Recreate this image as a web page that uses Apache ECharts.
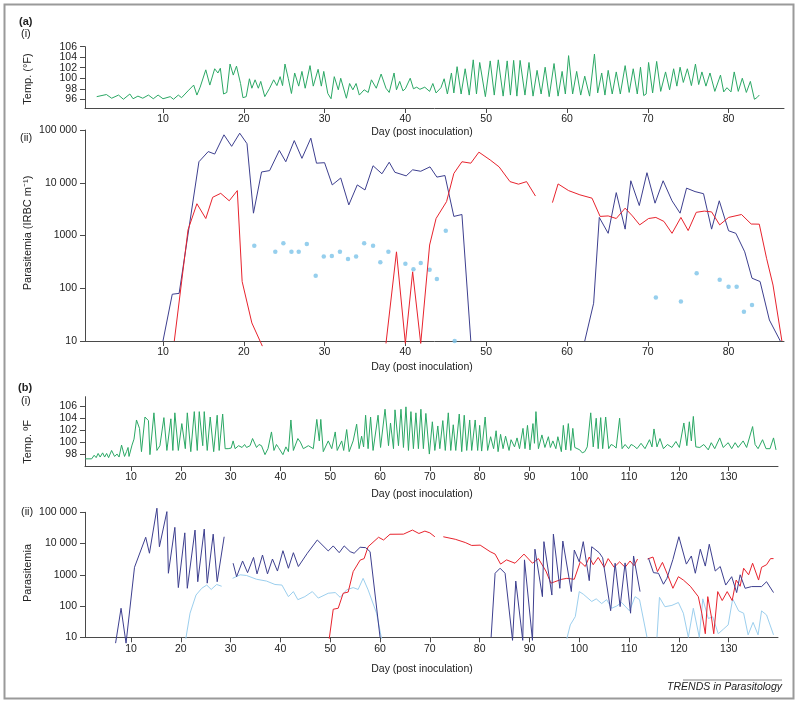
<!DOCTYPE html>
<html>
<head>
<meta charset="utf-8">
<script src="https://cdn.jsdelivr.net/npm/echarts@6/dist/echarts.min.js"></script>
<style>
html,body{margin:0;padding:0;background:#fff;}
#chart{width:800px;height:707px;}
</style>
</head>
<body>
<div id="chart"></div>
<script>
// ---------- DATA ----------
// Panel (a)(i) temperature [day, °F]
const aTemp = [[1.8,96.5],[3.0,96.9],[3.65,96.2],[4.5,96.8],[5.1,96.0],[5.9,97.0],[6.3,96.1],[6.9,96.6],[7.5,96.2],[8.2,96.8],[8.8,96.1],[9.4,96.8],[10.0,96.1],[10.9,96.5],[11.3,96.0],[11.9,96.8],[12.3,96.3],[13.1,97.6],[13.8,98.7],[14.2,96.8],[14.6,98.3],[15.3,101.6],[15.8,98.7],[16.4,101.8],[16.8,101.0],[17.1,101.9],[17.5,97.0],[17.9,97.3],[18.3,102.7],[18.7,100.6],[19.1,102.3],[19.6,99.0],[19.9,96.3],[20.3,96.5],[20.7,99.9],[21.0,98.1],[21.4,99.7],[21.8,98.1],[22.1,99.4],[22.6,96.5],[23.2,98.1],[23.7,99.7],[24.1,98.6],[24.5,100.3],[24.8,98.6],[25.1,102.7],[25.5,100.0],[25.9,97.1],[26.3,101.0],[26.8,98.5],[27.2,101.3],[27.6,98.1],[28.2,102.4],[28.6,98.5],[29.2,101.7],[29.6,98.5],[29.9,101.3],[30.4,97.1],[30.8,96.1],[31.2,100.3],[31.7,97.8],[32.0,100.0],[32.7,96.2],[33.1,99.0],[33.5,97.8],[33.9,99.0],[34.3,96.8],[34.9,97.8],[35.4,97.3],[35.8,99.7],[36.4,98.1],[37.0,100.8],[37.6,98.1],[38.0,97.3],[38.6,101.0],[38.9,97.8],[39.3,99.4],[39.7,97.6],[40.0,98.0],[40.6,100.0],[41.0,98.0],[41.4,98.3],[41.8,97.9],[42.4,98.3],[43.0,97.5],[43.4,99.0],[43.8,97.2],[44.4,98.2],[44.8,99.9],[45.2,97.0],[45.7,101.0],[46.0,97.2],[46.4,102.2],[46.9,97.0],[47.4,101.8],[47.9,96.8],[48.4,103.5],[48.8,97.0],[49.2,103.0],[49.9,96.5],[50.5,103.3],[51.0,96.8],[51.5,103.5],[52.1,96.6],[52.6,103.3],[53.0,96.8],[53.4,103.4],[53.8,96.6],[54.2,103.4],[54.8,96.8],[55.3,103.0],[55.8,96.6],[56.3,101.5],[56.8,97.0],[57.3,102.1],[57.8,96.5],[58.4,102.8],[58.9,96.6],[59.4,101.3],[59.8,97.0],[60.2,104.3],[60.7,97.0],[61.2,101.3],[61.7,96.8],[62.2,100.4],[62.8,96.6],[63.4,104.6],[63.8,97.2],[64.3,101.0],[64.7,96.8],[65.1,101.5],[65.6,97.0],[66.1,101.2],[66.6,97.0],[67.2,102.4],[67.7,97.3],[68.2,101.8],[68.7,97.0],[69.1,102.1],[69.5,96.7],[69.8,97.0],[70.1,103.0],[70.6,97.2],[71.1,103.2],[71.6,97.5],[72.2,101.2],[72.7,97.8],[73.2,101.8],[73.6,98.5],[74.0,102.1],[74.4,99.2],[74.9,101.8],[75.4,98.6],[75.9,102.7],[76.3,98.8],[76.7,101.2],[77.2,98.5],[77.7,101.0],[78.3,97.5],[79.0,100.6],[79.4,97.4],[79.8,98.2],[80.3,97.4],[80.7,101.2],[81.2,97.5],[81.7,100.0],[82.2,97.3],[82.7,99.4],[83.2,96.0],[83.5,96.3],[83.8,96.8]];

// Panel (a)(ii) parasitemia [day, IRBC]
const aBlue1 = [[10.0,10],[11.15,77],[12.0,80],[14.45,25000],[15.6,39000],[16.4,35000],[17.55,81000],[18.5,49000],[19.5,87000],[20.4,55000],[21.2,2650],[22.2,16000],[23.2,17000],[24.4,41000],[25.2,25000],[26.25,63000],[27.2,29000],[28.3,70000],[29.0,23500],[30.0,24000],[30.95,9100],[32.0,12300],[33.0,3800],[34.05,9100],[35.0,7300],[36.0,21000],[37.1,14800],[38.0,24500],[38.7,15800],[40.1,13500],[40.9,17600],[41.9,16500],[43.05,20000],[43.9,12800],[44.9,13700],[46.0,2300],[47.0,2500],[48.1,10]];
const aBlue2 = [[62.2,10],[63.3,52],[64.0,2200],[65.1,1100],[66.1,6500],[67.2,1320],[67.9,10900],[68.95,3700],[69.9,15500],[70.9,4100],[71.9,10900],[73.0,4550],[74.0,2650],[74.8,7900],[75.85,6800],[76.9,6200],[77.9,1320],[78.85,4550],[80.0,1230],[80.9,1100],[82.0,490],[82.9,155],[83.9,134],[85.05,25],[86.4,10]];
const aRed1 = [[11.4,10],[13.1,1280],[14.2,4000],[15.3,2100],[16.15,5300],[17.15,6300],[18.2,4550],[19.2,7100],[19.8,134],[21.0,22],[22.3,8]];
const aRed2 = [[37.6,9],[38.9,490],[40.0,9],[40.9,205],[41.9,9],[43.0,660],[43.8,2100],[45.1,4400],[46.0,15000],[47.0,25000],[48.1,23500],[49.1,38000],[50.5,27000],[51.6,20000],[52.95,10500],[54.0,9400],[55.0,10500],[56.1,5600]];
const aRed3 = [[58.2,4200],[58.9,9500],[60.2,7100],[61.6,5900],[63.1,5100],[64.1,2300],[65.1,2350],[66.1,2100],[67.2,3300],[68.1,2350],[69.0,1590],[70.1,2100],[71.0,2200],[72.0,1850],[73.0,1100],[74.1,2200],[75.0,1240],[76.0,2750],[77.0,2900],[77.9,2800],[78.9,1590],[80.0,2200],[81.6,2500],[82.8,1650],[83.8,1640],[84.7,370],[85.5,115],[86.6,10]];
const aDots = [[21.3,640],[23.9,490],[24.9,710],[25.9,490],[26.8,490],[27.8,690],[28.9,173],[29.9,400],[30.9,410],[31.9,490],[32.9,360],[33.9,400],[34.9,710],[36.0,640],[36.9,310],[37.9,490],[40.0,290],[41.0,230],[41.9,300],[43.0,225],[43.9,150],[45.0,1230],[46.1,10],[71.0,67],[74.1,56],[76.05,193],[78.9,145],[80.0,107],[81.0,107],[81.9,36],[82.9,48]];

// Panel (b)(i) temperature [day, °F]
const bTemp = [[0.8,97.2],[2.1,97.2],[2.6,97.8],[3.0,97.4],[3.4,98.1],[3.8,97.5],[4.3,98.2],[4.7,97.5],[5.1,98.1],[5.5,97.4],[6.1,98.6],[6.7,97.6],[7.2,98.0],[7.6,97.5],[8.1,99.5],[8.7,97.6],[9.1,98.4],[9.4,99.1],[9.6,97.6],[10.2,99.5],[10.6,100.5],[11.1,103.7],[11.7,102.3],[12.1,98.4],[12.8,104.2],[13.5,103.6],[13.8,97.9],[14.6,104.9],[15.2,98.6],[15.8,99.4],[16.6,104.1],[17.2,98.6],[18.0,103.9],[18.4,98.6],[18.8,104.9],[19.5,98.6],[20.2,103.1],[20.9,98.9],[21.3,104.9],[22.0,98.4],[22.7,105.1],[23.3,98.6],[23.7,105.1],[24.4,99.4],[24.7,105.1],[25.3,98.6],[25.9,104.2],[26.6,98.4],[27.3,104.5],[27.7,98.6],[28.4,104.7],[28.9,98.9],[29.5,98.9],[30.1,99.0],[30.5,100.2],[30.9,98.9],[31.6,99.4],[32.3,99.1],[32.8,99.6],[33.2,99.1],[33.9,99.4],[34.4,100.6],[35.2,99.1],[35.7,99.6],[36.2,99.4],[36.9,97.9],[37.5,98.9],[38.2,101.7],[38.7,98.6],[39.2,99.6],[39.6,99.1],[40.5,97.9],[41.1,99.2],[41.6,98.4],[42.1,103.7],[42.6,98.6],[43.5,100.6],[44.0,100.0],[44.6,98.9],[45.6,99.4],[46.6,98.9],[47.3,103.8],[47.8,100.2],[48.1,103.8],[48.6,98.4],[49.6,100.2],[50.3,98.9],[51.0,101.7],[51.4,98.6],[52.3,100.2],[52.7,98.6],[53.3,102.1],[53.8,98.4],[54.6,100.2],[55.3,103.0],[55.8,98.9],[56.3,101.0],[56.7,99.2],[57.1,104.5],[57.6,98.9],[58.1,104.2],[58.6,98.6],[59.6,104.5],[60.1,99.1],[61.0,105.5],[61.7,99.4],[62.1,103.2],[62.7,98.9],[63.0,105.4],[63.7,99.4],[64.2,105.5],[64.7,99.1],[65.2,105.9],[65.7,98.6],[66.2,105.1],[66.7,98.9],[67.2,104.9],[67.7,98.9],[68.2,105.5],[68.7,98.9],[69.2,104.8],[69.9,98.0],[70.5,103.4],[71.0,98.6],[71.6,102.7],[72.0,98.9],[72.6,103.6],[73.1,98.6],[73.7,104.9],[74.2,98.6],[74.7,102.9],[75.2,98.6],[75.9,104.7],[76.4,98.4],[76.9,104.5],[77.4,98.6],[78.0,103.7],[78.4,98.6],[79.1,103.7],[79.6,98.6],[80.0,102.8],[80.4,98.5],[81.1,104.2],[81.6,98.6],[82.2,100.9],[82.8,98.9],[83.3,101.9],[83.7,98.4],[84.2,101.3],[84.7,98.9],[85.2,101.0],[85.9,98.6],[86.3,100.4],[87.0,99.2],[87.5,100.7],[88.0,98.9],[88.7,102.3],[89.1,98.9],[89.6,102.8],[90.1,98.7],[90.7,103.1],[91.0,99.8],[91.3,105.1],[91.8,98.9],[92.5,101.2],[93.1,99.1],[93.8,100.9],[94.2,99.1],[94.7,100.2],[95.3,98.9],[95.7,100.9],[96.4,98.4],[96.8,102.8],[97.3,98.7],[97.8,103.1],[98.3,98.6],[98.7,102.3],[99.1,99.1],[100.1,98.7],[100.6,98.2],[101.1,98.4],[101.6,99.2],[102.3,104.9],[102.8,99.2],[103.4,104.0],[103.8,98.9],[104.3,104.1],[104.7,98.9],[105.3,104.2],[105.9,98.9],[106.4,99.6],[106.9,99.4],[107.4,99.0],[108.1,104.0],[108.6,98.9],[109.2,99.6],[109.9,98.9],[110.4,99.6],[110.9,99.4],[111.6,98.9],[112.4,99.8],[113.2,98.9],[114.1,100.4],[114.6,99.2],[115.0,102.2],[115.6,99.2],[116.2,100.6],[116.9,98.9],[117.7,99.6],[118.6,99.1],[119.4,100.1],[120.1,99.1],[121.0,103.2],[121.6,99.4],[122.1,103.4],[122.5,100.2],[122.9,104.3],[123.4,99.2],[124.2,99.1],[125.0,99.6],[125.9,98.7],[126.5,99.9],[127.2,98.9],[128.2,100.7],[128.9,99.1],[129.9,99.9],[130.6,98.9],[131.3,99.9],[131.9,99.1],[132.9,100.2],[133.6,99.1],[134.8,102.6],[135.3,99.6],[135.9,98.9],[136.8,100.4],[137.5,98.9],[138.3,98.9],[139.0,100.7],[139.5,98.7]];

// Panel (b)(ii) parasitemia [day, value]
const bBlue1 = [[6.9,6.5],[8.0,85],[9.0,6.5],[10.7,1740],[12.95,15900],[13.7,4900],[15.2,135000],[15.7,7900],[17.2,105000],[17.5,1120],[18.8,33000],[19.5,390],[20.8,22000],[21.3,370],[22.85,27000],[23.4,600],[24.7,29000],[25.3,540],[26.5,20000],[27.3,600],[28.7,16500]];
const bBlue2 = [[30.5,2350],[31.2,870],[32.4,2770],[33.4,1170],[34.6,3600],[35.3,1070],[36.4,4300],[37.4,1070],[38.4,3200],[39.4,1320],[40.5,5900],[41.6,1620],[42.6,5100],[43.6,1840],[45.4,4900],[47.4,13000],[49.6,5800],[50.6,8400],[51.8,5100],[52.8,8400],[54.0,5500],[54.8,4900],[56.0,7600],[57.1,7400],[58.0,5500],[60.0,10]];
const bBlue3 = [[82.3,10],[83.1,1120],[84.1,1620],[85.1,1120],[86.6,8],[87.25,630],[88.65,8],[89.0,3000],[90.6,8],[91.1,6600],[92.6,200],[92.9,11500],[94.5,225],[94.8,20000],[96.1,370],[96.7,12000],[98.4,290],[99.0,6200],[100.0,2600],[100.8,11500],[102.0,650],[102.5,7900],[104.0,5100],[104.7,3500],[106.3,71],[107.2,2350],[108.2,96],[109.2,2400],[110.3,59],[110.9,4000],[112.2,290]];
const bBlue4 = [[113.9,3400],[114.9,1170],[115.9,1120],[116.9,500],[117.6,770],[118.8,3100],[120.0,16500],[121.5,2200],[122.5,4000],[123.3,1120],[124.3,6600],[125.3,1900],[126.1,9500],[127.3,1320],[128.3,1840],[129.4,470],[130.6,870],[131.6,270],[132.3,1000],[133.3,370],[134.6,420],[136.6,420],[137.6,600],[139.0,270]];
const bRed1 = [[49.8,9],[50.6,79],[51.6,85],[52.6,257],[53.6,280],[54.6,1260],[56.0,2950],[56.8,3300],[57.6,7900],[59.7,15900],[60.7,13000],[62.0,19800],[64.7,20000],[66.5,27000],[67.8,21000],[69.0,25000],[70.0,22000],[71.0,16500]];
const bRed2 = [[72.7,16500],[75.1,13700],[77.1,10800],[78.4,8700],[80.1,8900],[82.1,5500],[83.1,4600],[84.2,2200],[85.4,3000],[87.1,2350],[88.9,4600],[90.6,2350],[91.8,3300],[93.3,1320],[94.3,540],[95.1,600],[96.5,720],[97.5,770],[99.0,720],[100.2,2600],[101.2,1840],[102.0,3700],[102.8,2100],[103.8,3600],[105.0,1740],[105.8,3300],[107.0,1740],[108.1,2600],[109.2,1740],[110.2,2770],[111.0,1950],[111.7,3200]];
const bRed3 = [[113.7,3200],[114.8,3700],[115.7,1260],[116.7,2500],[117.6,1120],[118.8,370],[119.9,870],[120.9,680],[122.3,430],[123.9,200],[124.6,59],[125.3,13],[125.8,200],[126.5,48],[127.0,13],[127.8,290],[128.7,150],[129.7,290],[130.7,150],[131.5,680],[132.3,430],[133.0,1620],[134.0,1000],[134.8,2350],[136.0,680],[136.6,1740],[137.6,2100],[138.4,3300],[139.0,3300]];
const bLight1 = [[21.0,9],[21.85,59],[23.05,225],[24.2,370],[25.2,470],[26.1,340],[27.2,490],[28.2,430]];
const bLight2 = [[30.4,770],[31.9,1000],[33.2,950],[35.2,720],[37.2,630],[38.9,490],[40.3,470],[41.6,200],[42.6,290],[43.5,160],[44.9,200],[46.4,290],[47.6,180],[49.6,257],[51.0,270],[52.0,190],[53.3,330],[54.6,390],[55.6,340],[56.6,770],[57.6,330],[59.3,59],[60.3,9]];
const bLight3 = [[97.5,9],[98.2,25],[99.2,46],[100.0,290],[100.8,240],[102.5,140],[103.4,170],[104.5,120],[105.5,160],[106.5,85],[107.5,100],[108.5,130],[110.1,70],[111.2,200],[112.1,160],[113.6,10]];
const bLight4 = [[115.6,10],[116.1,190],[117.2,95],[118.6,105],[119.9,130],[120.9,59],[121.9,10],[122.9,85],[124.1,10],[124.8,170],[125.9,40],[126.8,45],[127.9,13],[128.9,18],[129.9,25],[130.8,170],[132.0,70],[133.0,59],[133.9,12],[134.9,30],[135.9,12],[136.6,70],[137.6,52],[139.0,12]];

// Tick values
const aDayTicks = [10,20,30,40,50,60,70,80];
const bDayTicks = [10,20,30,40,50,60,70,80,90,100,110,120,130];
const aTempTicks = [96,98,100,102,104,106];
const aTempLabelsA = [96,100,104];
const aTempLabelsB = [98,102,106];
const bTempTicks = [98,100,102,104,106];

// ---------- STYLE ----------
const FONT = 'Liberation Sans, Arial, Helvetica, sans-serif';
const FS = 10.5;
const AX = '#4a4a4a';
const GREEN = '#2ba865';
const NAVY = '#3d3f8f';
const RED = '#e8232d';
const LIGHT = '#9ccfee';
const DOT = '#7cc3e8';

function xAxis(grid, min, max, ticks){
  return {
    type:'value', gridIndex:grid, min:min, max:max,
    splitLine:{show:false},
    axisLine:{show:true, onZero:false, lineStyle:{color:AX, width:1}},
    axisTick:{show:true, length:5, customValues:ticks, lineStyle:{color:AX}},
    axisLabel:{show:true, customValues:ticks, color:'#222', fontSize:FS, fontFamily:FONT, margin:6,
      hideOverlap:false, showMinLabel:true, showMaxLabel:true}
  };
}
function yTemp(grid, min, max, ticks, labels, showLine){
  return {
    type:'value', gridIndex:grid, min:min, max:max, position:'left', offset:0,
    splitLine:{show:false},
    axisLine:{show:showLine, onZero:false, lineStyle:{color:AX, width:1}},
    axisTick:{show:showLine, length:5, customValues:ticks, lineStyle:{color:AX}},
    axisLabel:{show:true, customValues:labels, color:'#222', fontSize:FS, fontFamily:FONT, margin:8,
      hideOverlap:false, showMinLabel:true, showMaxLabel:true}
  };
}
function yLog(grid){
  return {
    type:'log', logBase:10, gridIndex:grid, min:10, max:100000,
    splitLine:{show:false}, minorTick:{show:false},
    axisLine:{show:true, onZero:false, lineStyle:{color:AX, width:1}},
    axisTick:{show:true, length:5, lineStyle:{color:AX}},
    axisLabel:{show:true, color:'#222', fontSize:FS, fontFamily:FONT, margin:8,
      hideOverlap:false, showMinLabel:true, showMaxLabel:true,
      formatter:function(v){
        var n = Math.round(v);
        if (n >= 10000) { var s = String(n); return s.slice(0, s.length-3) + ' ' + s.slice(s.length-3); }
        return String(n);
      }}
  };
}
function line(data, color, xi, yi){
  return {type:'line', data:data, xAxisIndex:xi, yAxisIndex:yi, showSymbol:false, symbol:'none',
    lineStyle:{color:color, width:1}, itemStyle:{color:color}, clip:false, animation:false, silent:true};
}
function vtext(x, y, text){
  return {type:'text', x:x, y:y, rotation:Math.PI/2,
    style:{text:text, fill:'#222', font:'11px ' + FONT, align:'center', verticalAlign:'middle'}};
}
function htext(x, y, text, opts){
  var st = {text:text, fill:'#222', font:(opts && opts.font) || (FS + 'px ' + FONT), align:(opts && opts.align) || 'left', verticalAlign:'middle'};
  return {type:'text', x:x, y:y, style:st};
}

const chart = echarts.init(document.getElementById('chart'), null, {renderer:'canvas'});
chart.setOption({
  animation:false,
  backgroundColor:'#fff',
  grid:[
    {left:85, top:46.7, width:699, height:61.3},
    {left:85, top:130, width:699, height:211},
    {left:85, top:396.7, width:693, height:69.3},
    {left:85, top:512.3, width:693, height:125}
  ],
  xAxis:[
    xAxis(0, 0.35, 86.86, aDayTicks),
    xAxis(1, 0.35, 86.86, aDayTicks),
    xAxis(2, 0.76, 139.9, bDayTicks),
    xAxis(3, 0.76, 139.9, bDayTicks)
  ],
  yAxis:[
    yTemp(0, 94.34, 106, aTempTicks, aTempLabelsA, true),
    yLog(1),
    yTemp(2, 96, 107.6, bTempTicks, bTempTicks, true),
    yLog(3),
    yTemp(0, 94.34, 106, aTempTicks, aTempLabelsB, false)
  ],
  series:[
    line(aTemp, GREEN, 0, 0),
    line(aBlue1, NAVY, 1, 1),
    line(aBlue2, NAVY, 1, 1),
    line(aRed1, RED, 1, 1),
    line(aRed2, RED, 1, 1),
    line(aRed3, RED, 1, 1),
    {type:'scatter', data:aDots, xAxisIndex:1, yAxisIndex:1, symbol:'circle', symbolSize:4.5,
      itemStyle:{color:DOT}, animation:false, silent:true},
    line(bTemp, GREEN, 2, 2),
    line(bLight1, LIGHT, 3, 3),
    line(bLight2, LIGHT, 3, 3),
    line(bLight3, LIGHT, 3, 3),
    line(bLight4, LIGHT, 3, 3),
    line(bRed1, RED, 3, 3),
    line(bRed2, RED, 3, 3),
    line(bRed3, RED, 3, 3),
    line(bBlue1, NAVY, 3, 3),
    line(bBlue2, NAVY, 3, 3),
    line(bBlue3, NAVY, 3, 3),
    line(bBlue4, NAVY, 3, 3)
  ],
  graphic:[
    {type:'rect', shape:{x:4.5, y:4.5, width:789, height:694}, style:{fill:'none', stroke:'#9a9a9a', lineWidth:2}, silent:true},
    htext(19, 22, '(a)', {font:'bold 11px ' + FONT}),
    htext(21, 34, '(i)', {font:'11px ' + FONT}),
    htext(20, 138, '(ii)', {font:'11px ' + FONT}),
    htext(18, 388, '(b)', {font:'bold 11px ' + FONT}),
    htext(21, 401, '(i)', {font:'11px ' + FONT}),
    htext(21, 512, '(ii)', {font:'11px ' + FONT}),
    vtext(28, 79, 'Temp. (°F)'),
    vtext(28, 233, 'Parasitemia (IRBC m⁻¹)'),
    vtext(28, 442, 'Temp. ºF'),
    vtext(28, 573, 'Parasitemia'),
    htext(422, 132, 'Day (post inoculation)', {align:'center'}),
    htext(422, 367, 'Day (post inoculation)', {align:'center'}),
    htext(422, 494, 'Day (post inoculation)', {align:'center'}),
    htext(422, 669, 'Day (post inoculation)', {align:'center'}),
    {type:'line', shape:{x1:683, y1:680, x2:782, y2:680}, style:{stroke:'#666', lineWidth:0.8}, silent:true},
    htext(782, 687, 'TRENDS in Parasitology', {align:'right', font:'italic 10.5px ' + FONT})
  ]
});
</script>
</body>
</html>
